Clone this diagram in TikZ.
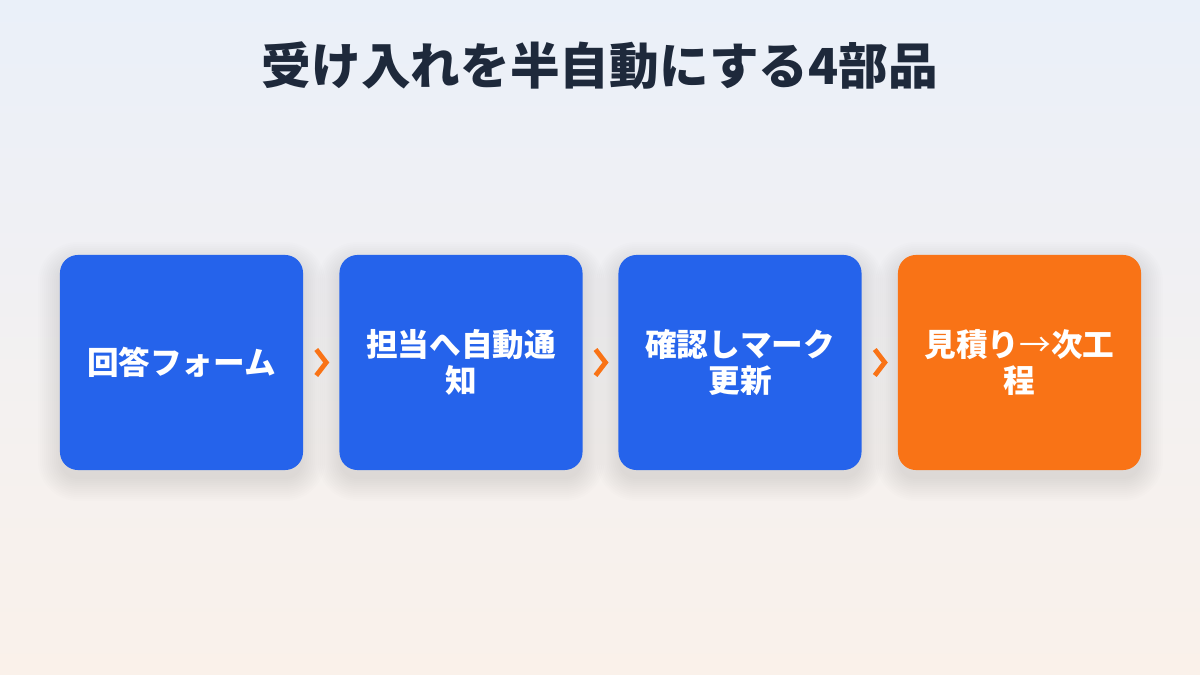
\documentclass[tikz,border=0pt]{standalone}
\usepackage{fontspec}
\setmainfont{Noto Sans CJK JP}
\usetikzlibrary{calc,backgrounds}
\definecolor{ceaf0f9}{RGB}{234,240,249}
\definecolor{cfaf1ea}{RGB}{250,241,234}
\definecolor{c1e293b}{RGB}{30,41,59}
\definecolor{c2563eb}{RGB}{37,99,235}
\definecolor{cf97316}{RGB}{249,115,22}
\def \globalscale {1.000000}

\begin{document}
\begin{tikzpicture}[y=-0.025cm, x=0.025cm, yscale=\globalscale,xscale=\globalscale, every node/.append style={scale=\globalscale}, inner sep=0pt, outer sep=0pt,
  stepbox/.style={rounded corners=0.45cm, minimum width=6.075cm, minimum height=5.375cm, text=white, align=center,
    font=\bfseries\fontsize{22.5}{26}\selectfont},
  chevron/.style={draw=cf97316, line width=0.12cm, line join=miter}]
  \useasboundingbox (0,0) rectangle (1200,675);



  \node[text=c1e293b,font=\bfseries\fontsize{35.3}{40}\selectfont] (text1) at (600,66){受け入れを半自動にする4部品};



  \node[stepbox,fill=c2563eb] (rect1) at (181.5,362.5){回答フォーム};



  \node[stepbox,fill=c2563eb] (rect2) at (461,362.5){担当へ自動通\\知};



  \node[stepbox,fill=c2563eb] (rect3) at (740,362.5){確認しマーク\\更新};



  \node[stepbox,fill=cf97316] (rect4) at (1019.5,362.5){見積り{\mdseries →}次工\\程};



  \foreach \a/\b [count=\i] in {rect1/rect2, rect2/rect3, rect3/rect4}{
    \coordinate (mid\i) at ($(\a.east)!0.5!(\b.west)$);
    \draw[chevron] ($(mid\i)+(-5,-13)$) -- ($(mid\i)+(5,0)$) -- ($(mid\i)+(-5,13)$);
  }



  % soft shadows and background
  \begin{pgfonlayer}{background}
    \shade[top color=ceaf0f9, bottom color=cfaf1ea] (0,0) rectangle (1200,675);
    \foreach \n in {rect1,rect2,rect3,rect4}{
      \foreach \k in {0,...,11}{
        \pgfmathsetmacro\rr{(18+2*\k)*0.7113}
        \fill[black,opacity=0.009,rounded corners=\rr pt] ($(\n.south west)+(-2*\k,9+2*\k)$) rectangle ($(\n.north east)+(2*\k,9-2*\k)$);
      }
    }
  \end{pgfonlayer}


\end{tikzpicture}
\end{document}
